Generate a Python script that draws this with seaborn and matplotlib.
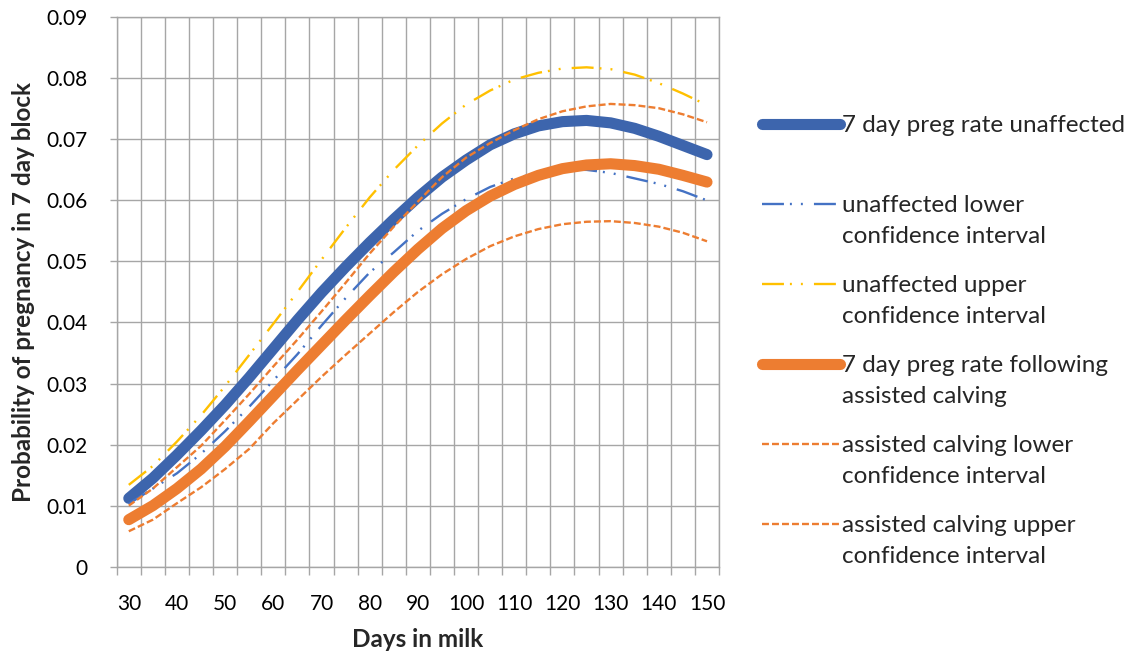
import numpy as np
import pandas as pd
import matplotlib
matplotlib.use("Agg")
import matplotlib.pyplot as plt
import seaborn as sns

# ---- data ----
days = [30, 35, 40, 45, 50, 55, 60, 65, 70, 75, 80, 85, 90,
        95, 100, 105, 110, 115, 120, 125, 130, 135, 140, 145, 150]
unaffected = [0.0112, 0.0145, 0.0183, 0.0223, 0.0265, 0.0310, 0.0357, 0.0404, 0.0449,
              0.0491, 0.0531, 0.0569, 0.0605, 0.0638, 0.0666, 0.0691, 0.0709, 0.0722,
              0.0729, 0.0731, 0.0727, 0.0718, 0.0705, 0.0690, 0.0675]
unaffected_lower = [0.0103, 0.0128, 0.0153, 0.0185, 0.0222, 0.0262, 0.0305, 0.0348,
                    0.0395, 0.0440, 0.0482, 0.0515, 0.0550, 0.0578, 0.0602, 0.0622,
                    0.0636, 0.0645, 0.0650, 0.0650, 0.0645, 0.0636, 0.0627, 0.0615, 0.0600]
unaffected_upper = [0.0134, 0.0165, 0.0205, 0.0248, 0.0296, 0.0347, 0.0398, 0.0450,
                    0.0503, 0.0555, 0.0605, 0.0650, 0.0690, 0.0726, 0.0757, 0.0780,
                    0.0798, 0.0809, 0.0816, 0.0818, 0.0815, 0.0806, 0.0792, 0.0775, 0.0756]
assisted = [0.0077, 0.0100, 0.0128, 0.0160, 0.0197, 0.0238, 0.0280, 0.0322, 0.0363,
            0.0404, 0.0444, 0.0483, 0.0520, 0.0554, 0.0583, 0.0607, 0.0626, 0.0641,
            0.0652, 0.0658, 0.0660, 0.0657, 0.0651, 0.0641, 0.0630]
assisted_lower = [0.0058, 0.0077, 0.0104, 0.0130, 0.0160, 0.0193, 0.0235, 0.0273,
                  0.0311, 0.0347, 0.0382, 0.0417, 0.0450, 0.0479, 0.0504, 0.0525,
                  0.0541, 0.0553, 0.0561, 0.0565, 0.0566, 0.0563, 0.0557, 0.0547, 0.0533]
assisted_upper = [0.0100, 0.0128, 0.0163, 0.0198, 0.0240, 0.0283, 0.0328, 0.0372,
                  0.0418, 0.0465, 0.0513, 0.0557, 0.0598, 0.0638, 0.0670, 0.0694,
                  0.0715, 0.0733, 0.0746, 0.0754, 0.0758, 0.0756, 0.0751, 0.0741, 0.0728]

x_ticks = [30, 40, 50, 60, 70, 80, 90, 100, 110, 120, 130, 140, 150]
x_tick_labels = [str(v) for v in x_ticks]
y_ticks = [0, 0.01, 0.02, 0.03, 0.04, 0.05, 0.06, 0.07, 0.08, 0.09]
y_tick_labels = ["0", "0.01", "0.02", "0.03", "0.04", "0.05", "0.06", "0.07", "0.08", "0.09"]

legend_first = ["7 day preg rate unaffected", "unaffected lower", "unaffected upper",
                "7 day preg rate following", "assisted calving lower",
                "assisted calving upper"]
legend_second = [None, "confidence interval", "confidence interval",
                 "assisted calving", "confidence interval", "confidence interval"]

x_title = "Days in milk"
y_title = "Probability of pregnancy in 7 day block"

# ---- styling ----
sns.set_theme(style="white")
plt.rcParams['font.family'] = ['Lato', 'DejaVu Sans']
plt.rcParams['lines.scale_dashes'] = False

BLUE_DARK = "#3D65AD"
BLUE = "#4472C4"
ORANGE = "#ED7D31"
YELLOW = "#FFC000"
GRID = "#A6A6A6"
LEG_FS = 17.5

fig = plt.figure(figsize=(11.39, 6.61), dpi=100)
ax = fig.add_axes([0.1025, 0.1427, 0.5288, 0.8312])

dashdotdot = (0, (15.8, 4.3, 1.4, 6.5, 1.4, 8.0))
dashed = (0, (5.0, 2.2))

series = [
    (unaffected, BLUE_DARK, 8.0, None),
    (unaffected_lower, BLUE, 1.7, dashdotdot),
    (unaffected_upper, YELLOW, 1.7, dashdotdot),
    (assisted, ORANGE, 8.0, None),
    (assisted_lower, ORANGE, 1.7, dashed),
    (assisted_upper, ORANGE, 1.7, dashed),
]

handles = []
for vals, col, lw, ls in series:
    df = pd.DataFrame({"days": days, "p": vals})
    sns.lineplot(data=df, x="days", y="p", ax=ax, color=col, linewidth=lw,
                 errorbar=None, legend=False, sort=False)
    ln = ax.lines[-1]
    if ls is None:
        ln.set_solid_capstyle("round")
        ln.set_solid_joinstyle("round")
    else:
        ln.set_linestyle(ls)
        ln.set_dash_capstyle("butt")
    handles.append(ln)

ax.set_xlim(27.5, 152.5)
ax.set_ylim(0, 0.09)
ax.set_xticks(x_ticks)
ax.set_xticklabels(x_tick_labels)
ax.set_xticks(np.arange(27.5, 153, 5), minor=True)
ax.set_yticks(y_ticks)
ax.set_yticklabels(y_tick_labels)

ax.grid(False)
ax.grid(which="minor", axis="x", color=GRID, linewidth=1.0)
ax.grid(which="major", axis="y", color=GRID, linewidth=1.0)
ax.set_axisbelow(True)

for s in ax.spines.values():
    s.set_visible(True)
    s.set_color(GRID)
    s.set_linewidth(1.0)

ax.tick_params(axis="x", which="major", length=0, pad=20, labelsize=15, colors="black")
ax.tick_params(axis="x", which="minor", length=6, width=1.0, color=GRID, bottom=True)
ax.tick_params(axis="y", which="major", length=5, width=1.0, color=GRID, left=True,
               pad=16, labelsize=15, labelcolor="black")

ax.set_xlabel(x_title, fontsize=17.5, fontweight="bold", labelpad=10)
ax.set_ylabel(y_title, fontsize=17.5, fontweight="bold", labelpad=8)

leg = fig.legend(handles, legend_first, loc="upper left",
                 bbox_to_anchor=(762 / 1139, 1 - 115 / 661), frameon=False,
                 fontsize=LEG_FS, handlelength=3.2, handletextpad=0.1,
                 labelspacing=2.43, borderpad=0, borderaxespad=0)

for txt, second in zip(leg.get_texts(), legend_second):
    if second is None:
        continue
    ann = matplotlib.text.Annotation(
        second, xy=(0, 0.5), xycoords=txt, xytext=(0, -31), textcoords="offset pixels",
        va="center", ha="left", fontsize=LEG_FS)
    ann.set_zorder(10)
    fig.add_artist(ann)

fig.savefig("out.png", dpi=100)
